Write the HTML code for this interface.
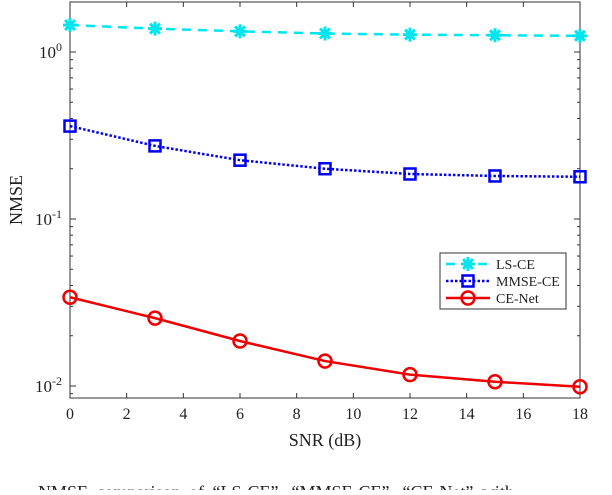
<!DOCTYPE html>
<html><head><meta charset="utf-8"><style>
body{margin:0;background:#fff;width:612px;height:490px;overflow:hidden}
text{font-family:"Liberation Serif",serif;fill:#222}
</style></head><body>
<svg id="c" width="612" height="490" xmlns="http://www.w3.org/2000/svg"></svg>
<script>
const snr=[0,3,6,9,12,15,18];
const lsce=[1.45,1.38,1.33,1.29,1.27,1.26,1.25];
const mmse=[0.36,0.274,0.225,0.2,0.186,0.181,0.179];
const cenet=[0.034,0.0255,0.0186,0.0141,0.0117,0.0106,0.0099];
const xTicks=[0,2,4,6,8,10,12,14,16,18];
const L=70,R=580,T=2,B=398;
const X=v=>L+(v/18)*(R-L);
const Y=v=>52-Math.log10(v)*167;
const svg=document.getElementById('c');const NS='http://www.w3.org/2000/svg';
function el(t,a,p){const e=document.createElementNS(NS,t);for(const k in a)e.setAttribute(k,a[k]);(p||svg).appendChild(e);return e;}
const ax=el('g',{});


el('rect',{x:L,y:T,width:R-L,height:B-T,fill:'none',stroke:'#333','stroke-width':1},ax);
xTicks.forEach(t=>{const x=X(t);
el('line',{x1:x,x2:x,y1:B,y2:B-5,stroke:'#333'},ax);el('line',{x1:x,x2:x,y1:T,y2:T+5,stroke:'#333'},ax);
const tx=el('text',{x:x,y:B+21,'text-anchor':'middle','font-size':16},ax);tx.textContent=t;

});
for(let d=-3;d<=0;d++){for(let m=1;m<10;m++){const v=m*Math.pow(10,d);const y=Y(v);if(y<T||y>B)continue;const len=m==1?6:3;
el('line',{x1:L,x2:L+len,y1:y,y2:y,stroke:'#333'},ax);el('line',{x1:R,x2:R-len,y1:y,y2:y,stroke:'#333'},ax);}}
[[0,'0'],[-1,'-1'],[-2,'-2']].forEach(([d,s])=>{const t=el('text',{x:L-8,y:Y(Math.pow(10,d))+6,'text-anchor':'end','font-size':17},ax);
t.innerHTML='10<tspan dy="-7" font-size="12">'+s+'</tspan>';

});
const xl=el('text',{x:(L+R)/2,y:446,'text-anchor':'middle','font-size':18});xl.textContent='SNR (dB)';


const yl=el('text',{x:22,y:200,'text-anchor':'middle','font-size':18,transform:'rotate(-90 22 200)'});yl.textContent='NMSE';


const cap=el('text',{x:38,y:498,'font-size':18,'word-spacing':4});cap.textContent='NMSE comparison of “LS-CE”, “MMSE-CE”, “CE-Net” with';


function marker(g,type,x,y,c){
 if(type=='star'){for(let a=0;a<4;a++){const r=a*Math.PI/4;el('line',{x1:x-7*Math.cos(r),y1:y-7*Math.sin(r),x2:x+7*Math.cos(r),y2:y+7*Math.sin(r),stroke:c,'stroke-width':3},g);}el('circle',{cx:x,cy:y,r:4,fill:c},g);}
 else if(type=='sq'){el('rect',{x:x-5.5,y:y-5.5,width:11,height:11,fill:'none',stroke:c,'stroke-width':2.5},g);}
 else el('circle',{cx:x,cy:y,r:6.5,fill:'none',stroke:c,'stroke-width':2.5},g);}
const series=[['ls-ce-series',lsce,'#00e5ee','9,7','star'],['mmse-ce-series',mmse,'#0000ee','2.5,2','sq'],['ce-net-series',cenet,'#ee0000','','circ']];
series.forEach(([n,d,c,da,m])=>{const g=el('g',{});


el('polyline',{points:d.map((v,i)=>X(snr[i])+','+Y(v)).join(' '),fill:'none',stroke:c,'stroke-width':2.5,'stroke-dasharray':da},g);
d.forEach((v,i)=>marker(g,m,X(snr[i]),Y(v),c));});
const lg=el('g',{});


el('rect',{x:440,y:253,width:126,height:56,fill:'#fff',stroke:'#333'},lg);
[['LS-CE','#00e5ee','9,7','star'],['MMSE-CE','#0000ee','2.5,2','sq'],['CE-Net','#ee0000','','circ']].forEach(([t,c,da,m],i)=>{
const y=264+i*17;const e=el('g',{},lg);


el('line',{x1:446,x2:490,y1:y,y2:y,stroke:c,'stroke-width':2.5,'stroke-dasharray':da},e);marker(e,m,468,y,c);
const tx=el('text',{x:496,y:y+5,'font-size':14},e);tx.textContent=t;});
</script>
</body></html>
